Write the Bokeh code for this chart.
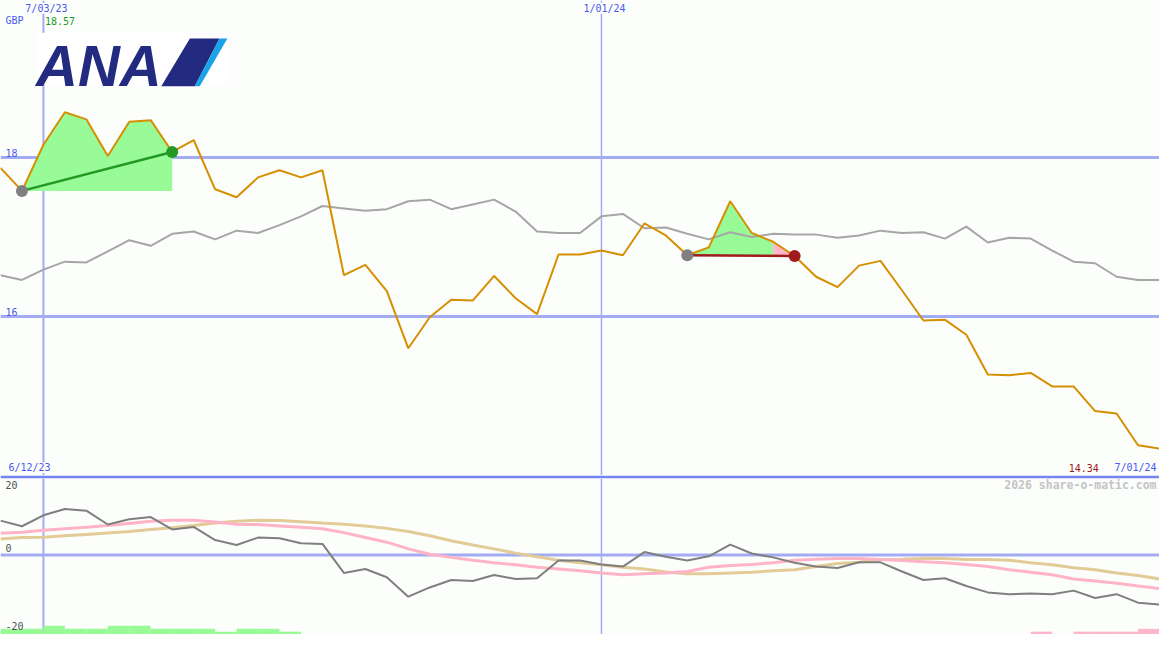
from bokeh.plotting import figure
from bokeh.layouts import column
from bokeh.models import Range1d, Span, Label, PolyAnnotation, BoxAnnotation
from bokeh.embed import file_html
from bokeh.resources import INLINE

# ---------------- data ----------------
price = [17.87, 17.58, 18.16, 18.57, 18.48, 18.02, 18.45, 18.47, 18.07, 18.22,
         17.60, 17.50, 17.75, 17.84, 17.75, 17.84, 16.52, 16.65, 16.32, 15.60,
         15.99, 16.21, 16.20, 16.51, 16.23, 16.03, 16.78, 16.78, 16.83, 16.77,
         17.17, 17.02, 16.77, 16.87, 17.45, 17.05, 16.94, 16.76, 16.50, 16.37,
         16.64, 16.70, 16.33, 15.95, 15.96, 15.77, 15.27, 15.26, 15.29, 15.12,
         15.12, 14.81, 14.78, 14.38, 14.34]
bench = [16.52, 16.46, 16.59, 16.69, 16.68, 16.82, 16.96, 16.89, 17.04, 17.07,
         16.97, 17.08, 17.05, 17.15, 17.26, 17.39, 17.36, 17.33, 17.35, 17.45,
         17.47, 17.35, 17.41, 17.47, 17.32, 17.07, 17.05, 17.05, 17.26, 17.29,
         17.11, 17.12, 17.04, 16.97, 17.06, 17.00, 17.04, 17.03, 17.03, 16.99,
         17.02, 17.08, 17.05, 17.06, 16.98, 17.13, 16.93, 16.99, 16.98, 16.83,
         16.69, 16.67, 16.50, 16.46, 16.46]
osc = [9.7, 8.1, 11.2, 13.0, 12.5, 8.6, 10.1, 10.7, 7.2, 7.9,
       4.2, 2.8, 4.9, 4.7, 3.3, 3.1, -5.1, -4.0, -6.3, -11.8,
       -9.2, -7.1, -7.4, -5.7, -6.8, -6.6, -1.6, -1.6, -2.7, -3.3,
       0.8, -0.5, -1.6, -0.4, 2.9, 0.4, -0.7, -2.2, -3.3, -3.7,
       -2.1, -2.1, -4.7, -7.1, -6.6, -8.8, -10.6, -11.1, -10.9, -11.1,
       -10.1, -12.2, -11.1, -13.5, -14.0]
sig_pink = [6.1, 6.4, 7.0, 7.4, 7.8, 8.3, 8.9, 9.5, 9.8, 9.8,
            9.3, 8.7, 8.6, 8.2, 7.8, 7.4, 6.3, 4.9, 3.6, 1.7,
            0.2, -0.7, -1.5, -2.2, -2.8, -3.5, -4.0, -4.5, -5.1, -5.6,
            -5.3, -5.1, -4.7, -3.5, -3.0, -2.7, -2.2, -1.5, -1.2, -1.0,
            -1.0, -1.3, -1.6, -1.9, -2.2, -2.7, -3.3, -4.2, -4.9, -5.6,
            -6.8, -7.4, -8.0, -8.8, -9.5]
sig_tan = [4.5, 4.9, 5.0, 5.4, 5.8, 6.2, 6.6, 7.2, 7.7, 8.3,
           9.0, 9.5, 9.8, 9.7, 9.4, 9.0, 8.7, 8.2, 7.5, 6.6,
           5.4, 4.0, 2.8, 1.7, 0.5, -0.5, -1.5, -2.2, -2.8, -3.5,
           -4.0, -4.8, -5.3, -5.3, -5.1, -4.9, -4.5, -4.2, -3.3, -2.4,
           -2.1, -1.3, -1.2, -1.0, -1.0, -1.3, -1.3, -1.5, -2.2, -2.8,
           -3.6, -4.2, -5.1, -5.8, -6.8]
hist = [1.6, 1.6, 2.5, 1.6, 1.6, 2.5, 2.5, 1.6, 1.6, 1.6,
        0.8, 1.6, 1.6, 0.8, 0, 0, 0, 0, 0, 0,
        0, 0, 0, 0, 0, 0, 0, 0, 0, 0,
        0, 0, 0, 0, 0, 0, 0, 0, 0, 0,
        0, 0, 0, 0, 0, 0, 0, 0, -0.8, 0,
        -0.8, -0.8, -0.8, -1.6]
periods = [(1, 8), (32, 37)]
date_tick_idx = [2, 28]
date_tick_labels = ["7/03/23", "1/01/24"]
price_ticks = [16, 18]
osc_ticks = [20, 0, -20]
start_label = "6/12/23"
end_label = "7/01/24"
currency = "GBP"
watermark = "2026 share-o-matic.com"

# ---------------- styling ----------------
BG = "#fcfefc"
GRID = "#a3abf3"
SEP = "#7484f0"
BLUE_TXT = "#4a58ee"
ORANGE = "#d68f00"
GRAY_LINE = "#a6a6a6"
GREEN_FILL = "#98fb98"
PINK_FILL = "#ffb6c8"
MONO = "DejaVu Sans Mono"

n = len(price)
x = list(range(n))
W = 1159
H_TOP = 475
H_BOT = 159
REF_W = 1175.0


def px(v):
    return v / REF_W * (n - 1)


def ty(py):
    return 18 - (py - 161) / 81.5


def by(py):
    return (568 - py) / 3.65


def label(fig, xx, yy, text, color, align="left", size="10px", style="normal",
          font=MONO, baseline="middle", bg=BG, x_offset=0):
    fig.add_layout(Label(x=xx, y=yy, text=text, text_color=color, text_align=align,
                         text_baseline=baseline, text_font=font, text_font_size=size,
                         text_font_style=style, background_fill_color=bg,
                         x_offset=x_offset))


# ---------------- top panel ----------------
top = figure(width=W, height=H_TOP, x_range=Range1d(0, n - 1), y_range=Range1d(14.0, 19.975),
             output_backend="svg", toolbar_location=None, min_border=0,
             x_axis_location=None, y_axis_location=None,
             background_fill_color=BG, border_fill_color=BG, outline_line_color=None)
top.grid.visible = False

for t in price_ticks:
    top.add_layout(Span(location=t, dimension="width", line_color=GRID, line_width=3, level="underlay"))
for k, t in enumerate(date_tick_idx):
    top.add_layout(Span(location=t, dimension="height", line_color=GRID,
                        line_width=2 if k == 0 else 1.5, level="underlay"))

# highlight periods: consecutive segments of the same colour merged into one polygon
for s, e in periods:
    base = price[s]
    groups = []
    for i in range(s, e):
        col = GREEN_FILL if price[i + 1] >= base else PINK_FILL
        if groups and groups[-1][0] == col:
            groups[-1][2] = i + 1
        else:
            groups.append([col, i, i + 1])
    for col, a, b in groups:
        xs = x[a:b + 1] + [x[b], x[a]]
        ys = price[a:b + 1] + [base, base]
        top.patch(xs, ys, fill_color=col, line_color=None)

top.line(x, bench, line_color=GRAY_LINE, line_width=2)
top.line(x, price, line_color=ORANGE, line_width=2)

for s, e in periods:
    up = price[e] >= price[s]
    c_line = "#229922" if up else "#a01c1c"
    top.line([x[s], x[e]], [price[s], price[e]], line_color=c_line, line_width=2.5)
    top.scatter([x[s]], [price[s]], size=12, fill_color="#808080", line_color=None)
    top.scatter([x[e]], [price[e]], size=12, fill_color=c_line, line_color=None)

# logo
top.add_layout(BoxAnnotation(left=px(37), right=px(232), top=ty(33), bottom=ty(86),
                             fill_color="#ffffff", fill_alpha=1, line_color=None))
label(top, px(36), ty(67), "ANA", "#232b80", size="58px", style="bold italic",
      font="Liberation Sans", baseline="alphabetic", bg=None)
top.add_layout(PolyAnnotation(xs=[px(163), px(192), px(222), px(197)],
                              ys=[ty(88), ty(39), ty(39), ty(88)],
                              fill_color="#232b80", fill_alpha=1, line_color=None))
top.add_layout(PolyAnnotation(xs=[px(222), px(230), px(202), px(197)],
                              ys=[ty(39), ty(39), ty(88), ty(88)],
                              fill_color="#1aa3e8", fill_alpha=1, line_color=None))

# texts
for t, lab in zip(date_tick_idx, date_tick_labels):
    label(top, t, ty(8), lab, BLUE_TXT, align="center", x_offset=3)
label(top, px(5), ty(21), currency, BLUE_TXT)
label(top, px(45), ty(21), f"{max(price):.2f}", "#229922")
for t in price_ticks:
    label(top, px(5), t + 5 / 81.5, str(t), BLUE_TXT, bg=None)
label(top, px(8), ty(479), start_label, BLUE_TXT)
label(top, px(1083), ty(479), f"{price[-1]:.2f}", "#a01818")
label(top, px(1172), ty(479), end_label, BLUE_TXT, align="right")

# ---------------- bottom panel ----------------
bot = figure(width=W, height=H_BOT, x_range=top.x_range, y_range=Range1d(-22.5, 21.6),
             output_backend="svg", toolbar_location=None, min_border=0, min_border_top=3,
             x_axis_location=None, y_axis_location=None,
             background_fill_color=BG, border_fill_color=SEP, outline_line_color=None)
bot.grid.visible = False

bot.add_layout(Span(location=0, dimension="width", line_color=GRID, line_width=3, level="underlay"))
for k, t in enumerate(date_tick_idx):
    bot.add_layout(Span(location=t, dimension="height", line_color=GRID,
                        line_width=2 if k == 0 else 1.5, level="underlay"))

y0 = -22.5
hl = [i for i, h in enumerate(hist) if h != 0]
bot.quad(left=[x[i] for i in hl], right=[x[i + 1] for i in hl],
         bottom=[y0] * len(hl), top=[y0 + abs(hist[i]) for i in hl],
         fill_color=[GREEN_FILL if hist[i] > 0 else PINK_FILL for i in hl], line_color=None)

bot.line(x, sig_tan, line_color="#e3cb98", line_width=3)
bot.line(x, sig_pink, line_color="#ffb3c6", line_width=3)
bot.line(x, osc, line_color="#7f7f7f", line_width=2)

for t, py in zip(osc_ticks, [496, 561, 641]):
    label(bot, px(5), by(py), str(t), "#505050", bg=None)
label(bot, px(1172), by(496), watermark, "#c4c4c4", align="right", size="11.5px",
      style="bold", bg=None)

layout = column(top, bot, spacing=0)
open("out.html", "w").write(file_html(layout, INLINE))
